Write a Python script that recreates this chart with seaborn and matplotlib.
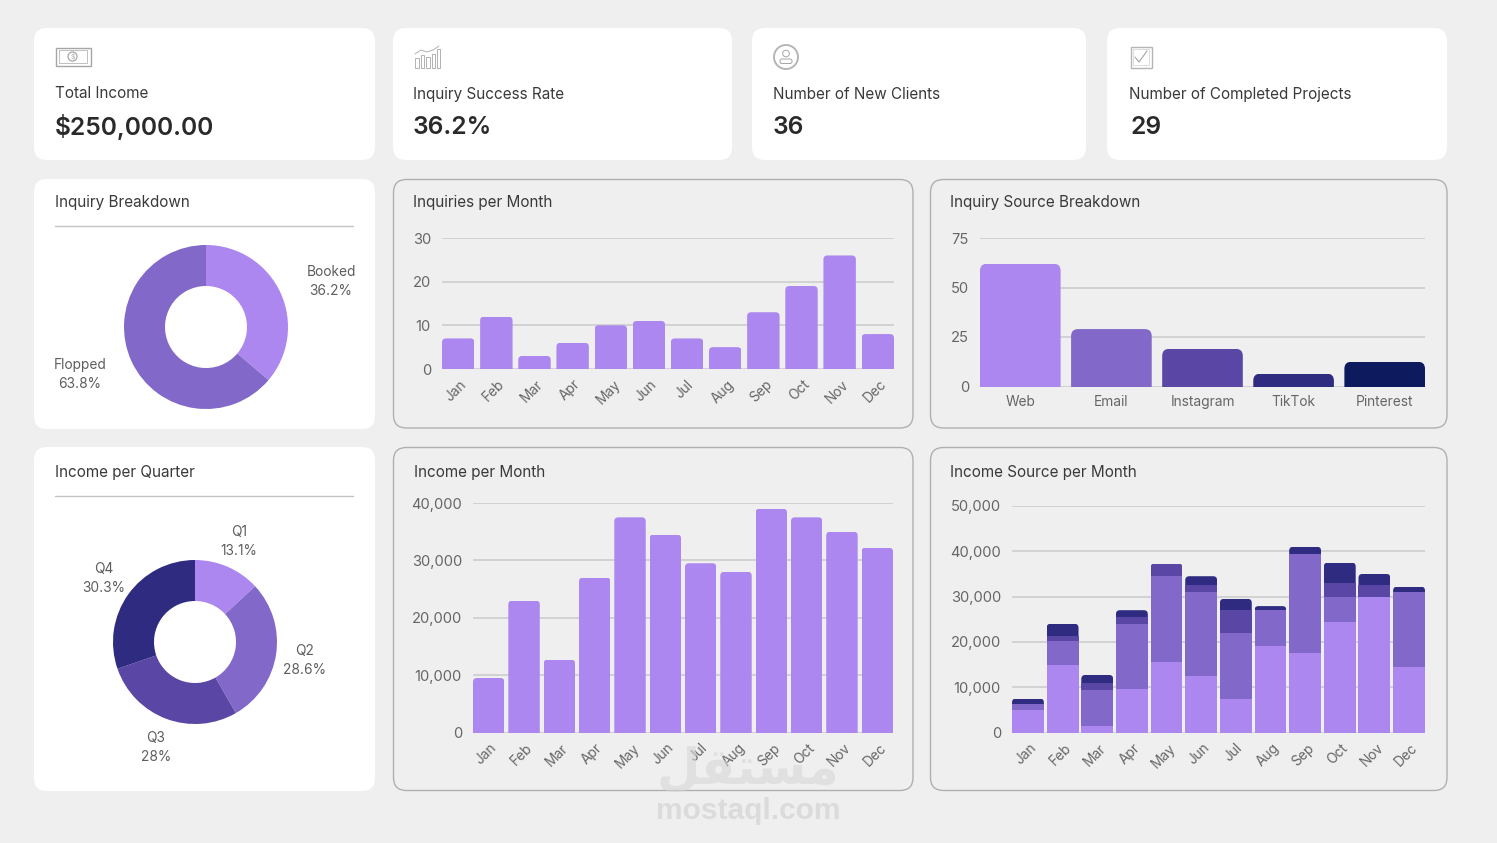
import numpy as np
import pandas as pd
import matplotlib
matplotlib.use("Agg")
import matplotlib.pyplot as plt
from matplotlib.patches import FancyBboxPatch, Circle, Rectangle
from matplotlib.transforms import IdentityTransform, ScaledTranslation
import seaborn as sns

W, H = 1497, 843
sns.set_theme(style="white")
FONT = "Inter"
plt.rcParams["font.family"] = [FONT, "DejaVu Sans"]

# ---------- data ----------
months = ["Jan", "Feb", "Mar", "Apr", "May", "Jun", "Jul", "Aug", "Sep", "Oct", "Nov", "Dec"]
inquiries = [7, 12, 3, 6, 10, 11, 7, 5, 13, 19, 26, 8]
sources = ["Web", "Email", "Instagram", "TikTok", "Pinterest"]
source_counts = [62, 29, 19, 6.5, 12.5]
income = [9500, 23000, 12700, 27000, 37500, 34500, 29500, 28000, 39000, 37500, 35000, 32200]
src_a = [5000, 15000, 1500, 9500, 15500, 12500, 7500, 19000, 17500, 24500, 30000, 14500]
src_b = [1200, 5200, 7800, 14500, 19000, 18500, 14500, 8000, 22000, 5500, 0, 16500]
src_c = [0, 1000, 1700, 1500, 2800, 1500, 5000, 0, 0, 3000, 2500, 0]
src_d = [1300, 2800, 1700, 1500, 0, 2000, 2500, 900, 1500, 4500, 2500, 1200]
booking_labels = ["Booked", "Flopped"]
booking_share = [36.2, 63.8]
quarter_labels = ["Q1", "Q2", "Q3", "Q4"]
quarter_share = [13.1, 28.6, 28.0, 30.3]

# ---------- palette ----------
BG = "#EFEFEF"
P1, P2, P3, P4, P5 = "#AC87EF", "#8268C8", "#5A46A4", "#2E2B80", "#0E1A5E"
TXT = "#3A3A3A"
TICK = "#666666"
GRID = "#CDCDCD"

fig = plt.figure(figsize=(W / 100, H / 100), dpi=100, facecolor=BG)


def pax(x0, y0, x1, y1, **kw):
    return fig.add_axes([x0 / W, 1 - y1 / H, (x1 - x0) / W, (y1 - y0) / H], **kw)


bg = pax(0, 0, W, H)
bg.set_xlim(0, W)
bg.set_ylim(H, 0)
bg.axis("off")


def card(x0, y0, x1, y1, face="white", edge="none", lw=0.0, r=13):
    bg.add_patch(FancyBboxPatch((x0 + r, y0 + r), x1 - x0 - 2 * r, y1 - y0 - 2 * r,
                                boxstyle=f"round,pad={r},rounding_size={r}",
                                fc=face, ec=edge, lw=lw))


def label(x, y, s, size=11.0, color=TXT, weight="normal", ha="left", **kw):
    bg.text(x, y, s, fontsize=size, color=color, fontweight=weight, ha=ha, va="baseline", **kw)


for box in [(34, 28, 375, 160), (393, 28, 732, 160), (752, 28, 1086, 160), (1107, 28, 1447, 160),
            (34, 179, 375, 429), (34, 447, 375, 791)]:
    card(*box)
for box in [(393.5, 179.5, 913, 428), (930.5, 179.5, 1447, 428),
            (393.5, 447.5, 913, 790.5), (930.5, 447.5, 1447, 790.5)]:
    card(*box, face=BG, edge="#B0B0B0", lw=1.0)

# KPI text
VAL = 17.7
label(55, 98, "Total Income")
label(55, 134.5, "$250,000.00", VAL, "#2A2A2A", "semibold")
label(413, 99, "Inquiry Success Rate")
label(413, 134.5, "36.2%", VAL, "#2A2A2A", "semibold")
label(773, 99, "Number of New Clients")
label(773, 134.5, "36", VAL, "#2A2A2A", "semibold")
label(1129, 99, "Number of Completed Projects")
label(1131, 134.5, "29", VAL, "#2A2A2A", "semibold")

# Icons
ICON = "#A6A6A6"
bg.add_patch(Rectangle((55.5, 47.5), 35, 18, fc="none", ec=ICON, lw=1))
bg.add_patch(Rectangle((59, 50), 28, 13, fc="none", ec=ICON, lw=0.5))
bg.add_patch(Circle((72.5, 56.5), 4.5, fc="none", ec=ICON, lw=0.9))
bg.text(72.5, 56.5, "$", fontsize=5, color=ICON, ha="center", va="center")
for bx, bh in zip([415, 420.5, 426, 431.5, 436.5], [10, 13, 11, 14, 19]):
    bg.add_patch(Rectangle((bx, 67.5 - bh), 3.5, bh, fc="none", ec=ICON, lw=0.6))
bg.plot([415, 421, 427, 433, 439], [54, 50, 52, 50, 46], color=ICON, lw=0.6)
bg.add_patch(Circle((786, 57), 12, fc="none", ec="#B5B5B5", lw=1.4))
bg.add_patch(Circle((786, 53.5), 3.3, fc="none", ec=ICON, lw=0.7))
bg.add_patch(FancyBboxPatch((780, 59), 12, 4.5, boxstyle="round,pad=0,rounding_size=2", fc="none", ec=ICON, lw=0.7))
bg.add_patch(Rectangle((1130.5, 46.5), 21, 21, fc="none", ec="#B5B5B5", lw=1))
bg.add_patch(Rectangle((1133, 49), 16, 16, fc="none", ec="#CFCFCF", lw=0.5))
bg.plot([1135, 1139, 1147], [57, 62, 51], color=ICON, lw=0.8)

# Panel titles
label(55, 207.5, "Inquiry Breakdown")
label(413, 207.5, "Inquiries per Month")
label(950, 207.5, "Inquiry Source Breakdown")
label(55, 476.5, "Income per Quarter")
label(414, 476.5, "Income per Month")
label(950, 476.5, "Income Source per Month")
bg.plot([55, 353], [226, 226], color="#C4C4C4", lw=1.0)
bg.plot([55, 353], [496, 496], color="#C4C4C4", lw=1.0)


def round_top(bar, r=4.0):
    e = bar.get_window_extent()
    if e.height <= 0:
        return
    clip = FancyBboxPatch((e.x0, e.y0 - 3 * r), e.width, e.height + 3 * r,
                          boxstyle=f"round,pad=0,rounding_size={r}",
                          transform=IdentityTransform())
    bar.set_clip_path(clip)


def style(ax, ymax, ticks, rot=45, fmt="{:,}", size=10.6):
    ax.set_ylim(0, ymax)
    ax.patch.set_alpha(0)
    sns.despine(ax=ax, left=True, bottom=True)
    ax.set_xlabel("")
    ax.set_ylabel("")
    ax.set_yticks(ticks)
    ax.set_yticklabels([fmt.format(t) for t in ticks])
    ax.grid(axis="y", color=GRID, lw=1.2)
    ax.grid(axis="x", visible=False)
    ax.set_axisbelow(True)
    ax.tick_params(axis="y", length=0, pad=8, labelsize=size, labelcolor=TICK)
    ax.tick_params(axis="x", length=0, pad=6, labelsize=9.9, labelcolor=TICK, rotation=rot)
    if rot:
        shift = ScaledTranslation(-2.5 / 100, 0, fig.dpi_scale_trans)
        for t in ax.get_xticklabels():
            t.set_ha("center")
            t.set_rotation_mode("default")
            t.set_transform(t.get_transform() + shift)


def single(box, cats, vals, colors, ymax, ticks, width, rot=45, xlim=None, r=4.0):
    ax = pax(*box)
    df = pd.DataFrame({"cat": cats, "val": vals})
    sns.barplot(data=df, x="cat", y="val", hue="cat", palette=colors, legend=False,
                width=width, saturation=1, ax=ax, linewidth=0)
    ax.set_xlim(*(xlim or (-width / 2, len(cats) - 1 + width / 2)))
    style(ax, ymax, ticks, rot=rot)
    for c in ax.containers:
        for b in c:
            round_top(b, r)
    return ax


single((442, 238, 894, 369), months, inquiries, [P1] * 12, 30, [0, 10, 20, 30], 0.85)
single((980, 238, 1425, 386.5), sources, source_counts, [P1, P2, P3, P4, P5], 75,
       [0, 25, 50, 75], 0.885, rot=0, r=7)
single((473, 503, 893, 732.5), months, income, [P1] * 12, 40000,
       [0, 10000, 20000, 30000, 40000], 0.89)

# Stacked income by source
ax = pax(1012, 506, 1425, 732.5)
stack_df = pd.DataFrame({"month": months, "a": src_a, "b": src_b, "c": src_c, "d": src_d})
bottom = np.zeros(12)
for col, colr in zip("abcd", [P1, P2, P3, P4]):
    sns.barplot(data=stack_df, x="month", y=col, color=colr, bottom=bottom, width=0.92,
                saturation=1, ax=ax, linewidth=0)
    bottom = bottom + stack_df[col].to_numpy()
ax.set_xlim(-0.46, 11.46)
style(ax, 50000, [0, 10000, 20000, 30000, 40000, 50000])
for i in range(12):
    for c in reversed(ax.containers):
        if c[i].get_height() > 0:
            round_top(c[i], 4)
            break


# Donuts
def donut(cx, cy, shares, colors, radius=82, hole=41):
    a = pax(cx - radius, cy - radius, cx + radius, cy + radius)
    a.pie(shares, colors=colors, startangle=90, counterclock=False, radius=1.0,
          wedgeprops=dict(width=1 - hole / radius, linewidth=0))
    a.set_xlim(-1, 1)
    a.set_ylim(-1, 1)
    a.set_aspect("equal")


donut(206, 327, booking_share, [P1, P2])
donut(195, 642, quarter_share, [P1, P2, P3, P4])

PIE = "#5E5E5E"
PS = 9.9
for x, y, name, share in [(331, 276, booking_labels[0], booking_share[0]),
                          (80, 369, booking_labels[1], booking_share[1])]:
    label(x, y, name, PS, PIE, ha="center")
    label(x, y + 19, f"{share}%", PS, PIE, ha="center")
for x, y, name, share in zip([239, 305, 156, 104], [536, 655, 742, 573], quarter_labels, quarter_share):
    label(x, y, name, PS, PIE, ha="center")
    label(x, y + 19, f"{share:g}%", PS, PIE, ha="center")

# Watermark
ov = pax(0, 0, W, H)
ov.set_xlim(0, W)
ov.set_ylim(H, 0)
ov.axis("off")
ov.patch.set_alpha(0)
ov.text(748, 811, "mostaql.com", fontsize=21.5, fontweight="bold", color="#D9D9D9",
        ha="center", va="center", family=["Liberation Sans", "DejaVu Sans"], alpha=0.9)
ov.text(748, 770, "\uFEDE\uFED8\uFE98\uFEB4\uFEE3", fontsize=36, fontweight="bold", color="#D6D6D6",
        ha="center", va="center", family="DejaVu Sans", alpha=0.6)

fig.savefig("out.png", dpi=100, facecolor=BG)
